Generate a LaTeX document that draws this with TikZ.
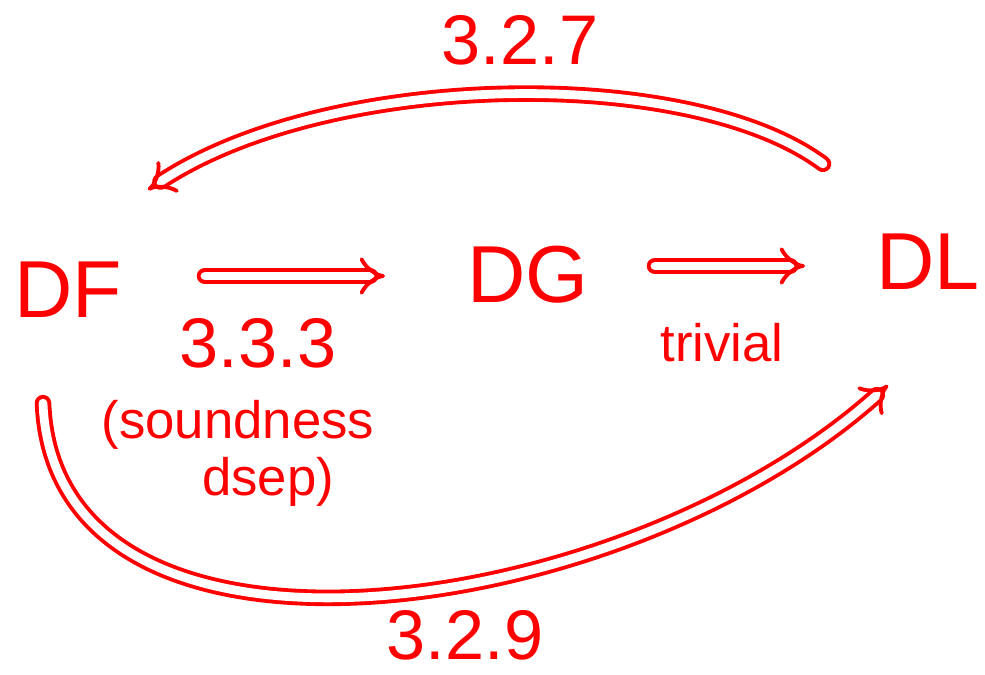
\documentclass[tikz,border=0pt]{standalone}
\usepackage{fontspec}
\setmainfont{Liberation Sans}
\usetikzlibrary{arrows.meta, positioning, calc}

\tikzset{
  ink/.style={red, line width=2.2pt, line cap=round},
  impl/.style={ink, double, double distance=5pt, -{Implies[length=9pt]}},
  big/.style={red, inner sep=0pt, font=\fontsize{46}{50}\selectfont},
  lbl/.style={red, inner sep=0pt, font=\fontsize{40}{44}\selectfont},
  note/.style={red, inner sep=0pt, font=\fontsize{30}{34}\selectfont}
}

\begin{document}
\begin{tikzpicture}[x=0.02cm,y=-0.02cm]
  \useasboundingbox (0,0) rectangle (985,675);

  \node[big] (df) at (68,290) {DF};
  \node[big] (dg) at (528,275) {DG};
  \node[big] (dl) at (928,262) {DL};

  \coordinate (dfR) at (205,276);
  \coordinate (dgL) at (385,276);
  \coordinate (dgR) at (655,266);
  \coordinate (dlL) at (805,266);
  \draw[impl] (dfR) -- (dgL);
  \draw[impl] (dgR) -- (dlL);

  \node[lbl] (c333) at (258,343) {3.3.3};
  \node[note] (snd) at (238,425) {(soundness};
  \node[note] (dsep) at (268,482) {dsep)};
  \node[note] (triv) at (722,343) {trivial};

  \draw[impl] ([shift={(-105,-70)}]dl.north) .. controls (690,65) and (330,70) .. ([shift={(80,-72)}]df.north);
  \node[lbl] (c327) at (520,40) {3.2.7};

  \draw[impl] ([shift={(-25,85)}]df.south) .. controls (55,700) and (620,625) .. ([shift={(-40,95)}]dl.south);
  \node[lbl] (c329) at (465,635) {3.2.9};
\end{tikzpicture}
\end{document}
